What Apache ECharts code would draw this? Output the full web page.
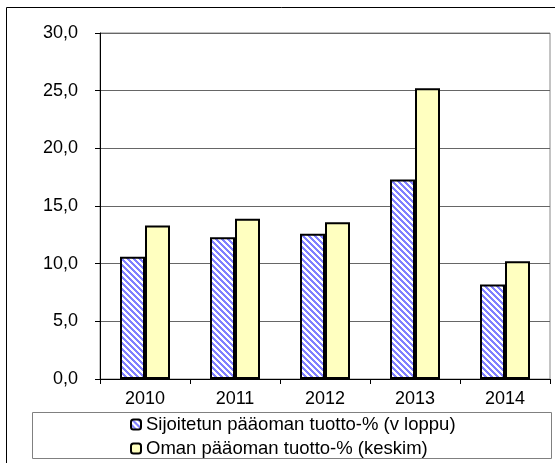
<!DOCTYPE html>
<html>
<head>
<meta charset="utf-8">
<script src="https://cdn.jsdelivr.net/npm/echarts@6/dist/echarts.min.js"></script>
<style>
  html, body { margin: 0; padding: 0; background: #fff; }
  #chart { width: 555px; height: 463px; }
</style>
</head>
<body>
<div id="chart"></div>
<script>
// data
const years = ['2010', '2011', '2012', '2013', '2014'];
const sijoitettu = [10.6, 12.3, 12.6, 17.3, 8.2];
const omaPaaoma = [13.3, 13.9, 13.6, 25.2, 10.2];
const seriesNames = ['Sijoitetun pääoman tuotto-% (v loppu)', 'Oman pääoman tuotto-% (keskim)'];

const FONT = "'Liberation Sans', Arial, sans-serif";

// diagonal blue/white stripes for the first series
function makeStripes() {
  const n = 6;
  const c = document.createElement('canvas');
  c.width = n; c.height = n;
  const ctx = c.getContext('2d');
  ctx.fillStyle = '#ffffff';
  ctx.fillRect(0, 0, n, n);
  ctx.fillStyle = '#8080ff';
  for (let y = 0; y < n; y++) {
    for (let x = 0; x < n; x++) {
      const d = ((x - y) % n + n) % n;
      if (d < 3) ctx.fillRect(x, y, 1, 1);
    }
  }
  return c;
}

const chart = echarts.init(document.getElementById('chart'));
chart.setOption({
  animation: false,
  backgroundColor: '#fff',
  graphic: [
    {
      type: 'rect', left: 4, top: 5, z: -10,
      shape: { width: 580, height: 490 },
      style: { fill: 'none', stroke: '#000', lineWidth: 1 }
    },
    {
      type: 'rect', left: 32, top: 412, z: -5,
      shape: { width: 519, height: 46 },
      style: { fill: '#fff', stroke: '#808080', lineWidth: 1 }
    }
  ],
  grid: {
    left: 100, right: 5, top: 33, bottom: 84,
    show: true, borderColor: '#888', borderWidth: 1
  },
  legend: {
    orient: 'vertical',
    left: 125, top: 410, height: 120,
    itemWidth: 10, itemHeight: 10, itemGap: 5,
    data: seriesNames,
    textStyle: { fontFamily: FONT, fontSize: 18.5, color: '#000', lineHeight: 18 }
  },
  xAxis: {
    type: 'category',
    data: years,
    axisLine: { lineStyle: { color: '#000', width: 1 } },
    axisTick: { show: true, length: 5, lineStyle: { color: '#000' } },
    axisLabel: { margin: 11, fontFamily: FONT, fontSize: 18, color: '#000' }
  },
  yAxis: {
    type: 'value',
    min: 0, max: 30, interval: 5,
    axisLine: { show: true, lineStyle: { color: '#000', width: 1 } },
    axisTick: { show: true, length: 5, lineStyle: { color: '#000' } },
    axisLabel: {
      margin: 22, fontFamily: FONT, fontSize: 18, color: '#000',
      formatter: v => v.toFixed(1).replace('.', ',')
    },
    splitLine: { lineStyle: { color: '#666', width: 1 } }
  },
  series: [
    {
      name: seriesNames[0],
      type: 'bar',
      data: sijoitettu,
      barWidth: 25,
      barGap: '0%',
      itemStyle: {
        color: { image: makeStripes(), repeat: 'repeat' },
        borderColor: '#000', borderWidth: 2
      }
    },
    {
      name: seriesNames[1],
      type: 'bar',
      data: omaPaaoma,
      barWidth: 25,
      barGap: '0%',
      itemStyle: { color: '#ffffc0', borderColor: '#000', borderWidth: 2 }
    }
  ]
});
</script>
</body>
</html>
